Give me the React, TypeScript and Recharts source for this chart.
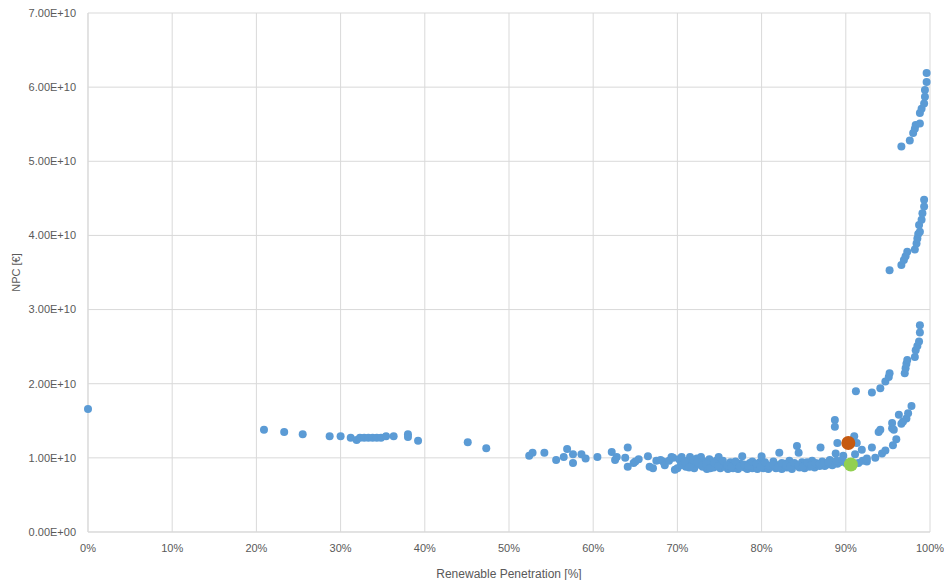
import {
  ScatterChart,
  Scatter,
  XAxis,
  YAxis,
  CartesianGrid,
  Label,
} from "recharts";

// x = renewable penetration [%], y = NPC in units of 1E+10 €
const lowPenetration: [number, number][] = [
  [0, 1.66], [20.9, 1.38], [23.3, 1.35], [25.5, 1.32], [28.7, 1.29], [30.0, 1.29],
  [31.2, 1.27], [31.9, 1.24], [32.3, 1.27], [32.8, 1.27], [33.3, 1.27], [33.8, 1.27],
  [34.3, 1.27], [34.8, 1.27], [35.4, 1.29], [36.3, 1.29], [38.0, 1.32], [38.0, 1.28],
  [39.2, 1.23], [45.1, 1.21], [47.3, 1.13],
];

const midPenetration: [number, number][] = [
  [52.4, 1.03], [52.8, 1.07], [54.2, 1.07], [55.6, 0.97], [56.5, 1.01], [56.9, 1.12],
  [57.6, 1.05], [57.6, 0.93], [58.6, 1.05], [59.1, 0.99], [60.5, 1.01], [62.2, 1.08],
  [62.6, 0.97], [62.8, 1.01], [63.8, 1.0], [64.1, 1.14], [64.1, 0.88], [64.8, 0.93],
  [65.0, 0.95], [65.4, 0.98], [66.5, 1.02], [66.7, 0.88], [67.1, 0.86], [67.5, 0.96],
  [68.3, 0.95], [69.3, 1.01], [69.7, 0.84],
];

const densePenetration: [number, number][] = [
  [68.0, 0.97], [68.5, 0.9], [69.0, 0.96], [69.5, 1.0], [70.0, 0.86], [70.2, 0.98],
  [70.5, 1.01], [70.8, 0.92], [71.0, 0.88], [71.2, 0.96], [71.5, 1.01], [71.8, 0.93],
  [72.0, 0.86], [72.3, 0.99], [72.5, 0.91], [72.8, 1.01], [73.0, 0.88], [73.2, 0.95],
  [73.5, 0.85], [73.8, 0.98], [74.0, 0.9], [74.3, 0.87], [74.6, 0.96], [74.9, 1.01],
  [75.1, 0.86], [75.4, 0.92], [75.7, 0.88], [76.0, 0.85], [76.3, 0.94], [76.6, 0.86],
  [76.9, 0.9], [77.2, 0.85], [77.5, 0.92], [77.7, 1.02], [78.0, 0.87], [78.3, 0.85],
  [78.6, 0.93], [78.9, 0.86], [79.2, 0.89], [79.5, 0.85], [79.8, 0.94], [80.0, 1.02],
  [80.2, 0.86], [80.5, 0.91], [80.8, 0.85], [81.1, 0.88], [81.4, 0.95], [81.7, 0.86],
  [82.0, 0.9], [82.1, 1.07], [82.4, 0.85], [82.7, 0.92], [83.0, 0.87], [83.3, 0.96],
  [83.6, 0.85], [83.9, 0.9], [84.2, 1.16], [84.4, 1.07], [84.5, 0.87], [84.8, 0.94],
  [85.1, 0.86], [85.4, 0.91], [85.7, 0.88], [86.0, 0.96], [86.3, 0.87], [86.6, 0.92],
  [86.9, 0.89], [87.0, 1.14], [87.2, 0.95], [87.5, 0.89], [87.8, 0.91], [88.1, 0.97],
  [88.4, 0.9], [88.7, 1.51], [88.7, 1.42], [88.8, 1.06], [89.0, 1.2], [89.0, 0.92],
  [89.3, 0.95], [89.7, 1.03], [90.0, 0.93],
  // extra fill of the crowded band
  [70.4, 0.9], [70.9, 0.95], [71.4, 0.87], [71.9, 0.97], [72.4, 0.94], [72.9, 0.9],
  [73.4, 0.92], [73.9, 0.86], [74.4, 0.93], [74.9, 0.89], [75.4, 0.96], [75.9, 0.9],
  [76.4, 0.88], [76.9, 0.95], [77.4, 0.88], [77.9, 0.91], [78.4, 0.89], [78.9, 0.95],
  [79.4, 0.92], [79.9, 0.88], [80.4, 0.94], [80.9, 0.89], [81.4, 0.91], [81.9, 0.87],
  [82.4, 0.93], [82.9, 0.9], [83.4, 0.88], [83.9, 0.93], [84.4, 0.9], [84.9, 0.88],
  [85.4, 0.94], [85.9, 0.9], [86.4, 0.93], [86.9, 0.92], [87.4, 0.93], [87.9, 0.94],
  [88.9, 0.96], [89.6, 0.97],
];

const highPenetration: [number, number][] = [
  [91.0, 1.29], [91.1, 1.05], [91.3, 1.2], [91.5, 0.93], [91.9, 1.11], [92.0, 0.96],
  [92.5, 0.95], [92.5, 0.99], [93.1, 1.14], [93.5, 1.0], [93.9, 1.35], [94.3, 1.06],
  [94.7, 1.1], [95.6, 1.17], [96.0, 1.25], [95.5, 1.4], [95.5, 1.47], [96.3, 1.58],
  [96.6, 1.46], [97.2, 1.53], [97.4, 1.6], [97.8, 1.7], [94.1, 1.38], [95.7, 1.38],
  [96.8, 1.49],
];

const curveLow: [number, number][] = [
  [91.2, 1.9], [93.1, 1.88], [94.1, 1.94], [94.7, 2.03], [95.1, 2.09], [95.2, 2.14],
  [97.0, 2.14], [97.1, 2.21], [97.2, 2.27], [97.3, 2.32], [98.2, 2.36], [98.3, 2.45],
  [98.5, 2.51], [98.7, 2.57], [98.8, 2.69], [98.8, 2.79],
];

const curveMid: [number, number][] = [
  [95.2, 3.53], [96.6, 3.6], [96.9, 3.67], [97.1, 3.72], [97.3, 3.78], [98.2, 3.81],
  [98.4, 3.89], [98.5, 3.96], [98.6, 4.02], [98.8, 4.05], [98.7, 4.14], [99.0, 4.21],
  [99.1, 4.3], [99.3, 4.39], [99.3, 4.48],
];

const curveHigh: [number, number][] = [
  [96.6, 5.2], [97.6, 5.28], [98.0, 5.38], [98.2, 5.44], [98.3, 5.49], [98.8, 5.51],
  [98.8, 5.65], [99.0, 5.71], [99.3, 5.78], [99.4, 5.87], [99.4, 5.96], [99.6, 6.07],
  [99.6, 6.19],
];

const greenPoints: [number, number][] = [[82.0, 0.9], [88.6, 0.94], [89.3, 0.94]];
const optimumPoint: [number, number][] = [[90.6, 0.91]];
const referencePoint: [number, number][] = [[90.3, 1.2]];

const xTicks = [0, 10, 20, 30, 40, 50, 60, 70, 80, 90, 100];
const yTicks = [0, 1e10, 2e10, 3e10, 4e10, 5e10, 6e10, 7e10];

const toData = (pts: [number, number][]) => pts.map(([x, y]) => ({ x, y: y * 1e10 }));

function fmtSci(v: number): string {
  if (v === 0) return "0.00E+00";
  const e = Math.floor(Math.log10(v) + 1e-9);
  const m = v / Math.pow(10, e);
  return `${m.toFixed(2)}E+${String(e).padStart(2, "0")}`;
}

const dot = (r: number, fill: string) => (p: any) => (
  <circle cx={p.cx} cy={p.cy} r={r} fill={fill} />
);

const tickStyle = { fill: "#595959", fontSize: 11, fontFamily: "Liberation Sans" };

export default function App() {
  const blue = [
    ...lowPenetration,
    ...midPenetration,
    ...densePenetration,
    ...highPenetration,
    ...curveLow,
    ...curveMid,
    ...curveHigh,
  ];
  return (
    <div style={{ position: "absolute", left: 0, top: 0, background: "#fff" }}>
      <ScatterChart
        width={944}
        height={580}
        margin={{ top: 13, right: 14, bottom: 0, left: 0 }}
      >
        <CartesianGrid stroke="#D9D9D9" />
        <XAxis
          type="number"
          dataKey="x"
          domain={[0, 100]}
          ticks={xTicks}
          tickFormatter={(v) => `${v}%`}
          tick={tickStyle}
          tickLine={false}
          tickMargin={6}
          axisLine={{ stroke: "#D9D9D9" }}
          height={48}
        >
          <Label
            value="Renewable Penetration [%]"
            position="insideBottom"
            offset={2}
            style={{ fill: "#595959", fontSize: 12, fontFamily: "Liberation Sans" }}
          />
        </XAxis>
        <YAxis
          type="number"
          dataKey="y"
          domain={[0, 7e10]}
          ticks={yTicks}
          tickFormatter={fmtSci}
          tick={tickStyle}
          tickLine={false}
          tickMargin={6}
          axisLine={{ stroke: "#D9D9D9" }}
          width={88}
        >
          <Label
            value="NPC [€]"
            angle={-90}
            position="insideLeft"
            offset={16}
            style={{
              fill: "#595959",
              fontSize: 11,
              fontFamily: "Liberation Sans",
              textAnchor: "middle",
            }}
          />
        </YAxis>
        <Scatter data={toData(greenPoints)} shape={dot(4, "#92D050")} isAnimationActive={false} />
        <Scatter data={toData(blue)} shape={dot(4, "#5B9BD5")} isAnimationActive={false} />
        <Scatter data={toData(referencePoint)} shape={dot(7, "#C55A11")} isAnimationActive={false} />
        <Scatter data={toData(optimumPoint)} shape={dot(7, "#92D050")} isAnimationActive={false} />
      </ScatterChart>
    </div>
  );
}
